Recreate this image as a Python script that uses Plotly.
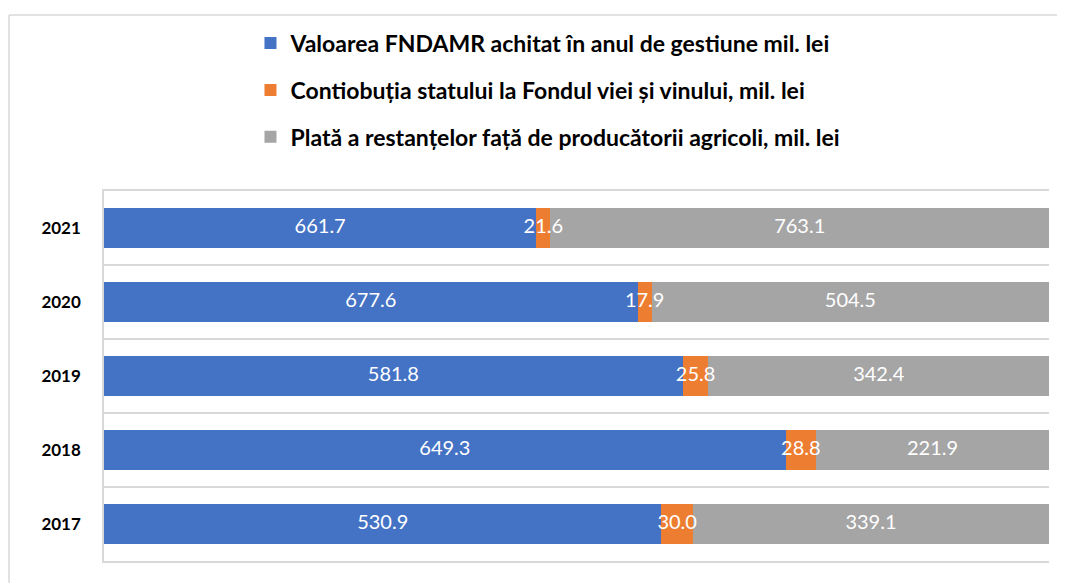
import plotly.graph_objects as go

years = ["2017", "2018", "2019", "2020", "2021"]
fndamr = [530.9, 649.3, 581.8, 677.6, 661.7]
vin = [30.0, 28.8, 25.8, 17.9, 21.6]
restante = [339.1, 221.9, 342.4, 504.5, 763.1]

names = [
    "Valoarea FNDAMR achitat în anul de gestiune mil. lei",
    "Contiobuția statului la Fondul viei și vinului, mil. lei",
    "Plată a restanțelor față de producătorii agricoli, mil. lei",
]
colors = ["#4472C4", "#ED7D31", "#A5A5A5"]
series = [fndamr, vin, restante]

totals = [sum(v) for v in zip(*series)]

fig = go.Figure()
for i, (nm, col, vals) in enumerate(zip(names, colors, series)):
    fig.add_trace(go.Bar(
        y=years, x=vals, orientation="h", name=nm,
        marker=dict(color=col, line=dict(width=0)),
        legendgroup=f"g{i}", hoverinfo="name+x",
    ))

# value labels centred on each segment (computed from the data, in percent units)
cum = [0.0] * len(years)
for vals in series:
    mids = []
    for j, v in enumerate(vals):
        p = 100.0 * v / totals[j]
        mids.append(cum[j] + p / 2)
        cum[j] += p
    fig.add_trace(go.Scatter(
        y=years, x=mids, mode="text",
        text=[f"{v:.1f}" for v in vals],
        textposition="middle center",
        textfont=dict(color="white", size=20, family="Lato"),
        showlegend=False, hoverinfo="skip", cliponaxis=False,
    ))

fig.update_layout(
    width=1065, height=583,
    barmode="stack", barnorm="percent", bargap=0.46,
    paper_bgcolor="white", plot_bgcolor="white",
    margin=dict(l=96, r=24, t=183, b=30),
    font=dict(family="Lato", color="black"),
    showlegend=True,
    legend=dict(
        x=0.155, xanchor="left", y=1.458, yanchor="top",
        orientation="v", traceorder="grouped", tracegroupgap=14,
        font=dict(size=23, family="Lato", color="black", weight="bold"),
        itemwidth=30, bgcolor="rgba(0,0,0,0)",
    ),
    xaxis=dict(
        range=[0, 100], fixedrange=True,
        showticklabels=False, showgrid=False, zeroline=False, ticks="",
        showline=True, mirror=True, linecolor="#D9D9D9", linewidth=1.5,
    ),
    yaxis=dict(
        type="category", tickson="boundaries",
        showgrid=True, gridcolor="#D9D9D9", gridwidth=1.5,
        showline=True, linecolor="#D9D9D9", linewidth=1.5,
        ticks="", ticklen=0,
        tickfont=dict(size=17, family="Lato", color="black", weight="bold"),
        ticklabelstandoff=18,
    ),
    shapes=[
        dict(type="line", xref="paper", yref="paper",
             x0=-0.1005, x1=1.1, y0=1.4757, y1=1.4757,
             line=dict(color="#D9D9D9", width=1.5)),
        dict(type="line", xref="paper", yref="paper",
             x0=-0.1005, x1=-0.1005, y0=1.4757, y1=-0.2,
             line=dict(color="#D9D9D9", width=1.5)),
    ],
)

fig.write_html("out.html")
